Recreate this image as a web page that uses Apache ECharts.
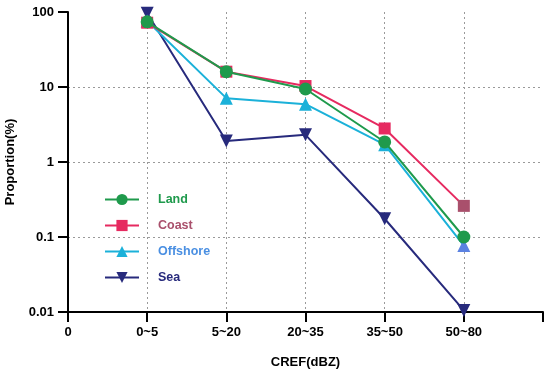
<!DOCTYPE html>
<html>
<head>
<meta charset="utf-8">
<script src="https://cdn.jsdelivr.net/npm/echarts@6/dist/echarts.min.js"></script>
<style>html,body{margin:0;padding:0;background:#fff}#c{width:550px;height:377px}</style>
</head>
<body>
<div id="c"></div>
<script>
const xLabels = ["0", "0~5", "5~20", "20~35", "35~50", "50~80", ""];
const xPos = [1, 2, 3, 4, 5];
const yTicks = ["0.01", "0.1", "1", "10", "100"];
const land = [74, 16.0, 9.4, 1.85, 0.10];
const coast = [72, 16.0, 10.3, 2.8, 0.26];
const offshore = [76, 7.1, 5.9, 1.7, 0.077];
const sea = [96, 1.9, 2.3, 0.175, 0.0105];

const FONT = '"Liberation Sans", Arial, sans-serif';
const pair = (vals) => vals.map((v, i) => [xPos[i], v]);

function mkSeries(name, vals, color, symbol, size, extra) {
  return Object.assign({
    name: name, type: 'line', data: pair(vals),
    symbol: symbol, symbolSize: size,
    lineStyle: { color: color, width: 2 },
    itemStyle: { color: color },
    emphasis: { disabled: true }, animation: false
  }, extra || {});
}

const coastData = pair(coast).map((d, i) => i === 4 ? { value: d, itemStyle: { color: '#a9506c' } } : d);
const offData = pair(offshore).map((d, i) => i === 4 ? { value: d, itemStyle: { color: '#5b82e2' } } : d);

const chart = echarts.init(document.getElementById('c'), null, { renderer: 'canvas' });
chart.setOption({
  animation: false,
  textStyle: { fontFamily: FONT },
  grid: { left: 68, right: 7, top: 12, bottom: 65, containLabel: false, outerBoundsMode: 'none' },
  legend: {
    orient: 'vertical', left: 99, top: 188,
    itemWidth: 34, itemHeight: 14, itemGap: 13,
    textStyle: { fontFamily: FONT, fontWeight: 'bold', fontSize: 12.5, padding: [0, 0, 0, 14] },
    data: [
      { name: 'Land', textStyle: { color: '#1f9a4c' } },
      { name: 'Coast', textStyle: { color: '#a9506c' } },
      { name: 'Offshore', textStyle: { color: '#4a8fe2' } },
      { name: 'Sea', textStyle: { color: '#272a7c' } }
    ]
  },
  xAxis: {
    type: 'value', min: 0, max: 6, interval: 1,
    name: 'CREF(dBZ)', nameLocation: 'middle', nameGap: 44,
    nameTextStyle: { fontFamily: FONT, fontWeight: 'bold', fontSize: 13, color: '#000' },
    axisLine: { show: true, lineStyle: { color: '#000', width: 2 } },
    axisTick: { show: true, length: 10, lineStyle: { color: '#000', width: 2 } },
    axisLabel: {
      margin: 14, fontFamily: FONT, fontWeight: 'bold', fontSize: 13, color: '#000',
      showMinLabel: true, showMaxLabel: true,
      formatter: (v) => xLabels[Math.round(v)] || ''
    },
    splitLine: { show: true, showMinLine: false, showMaxLine: false, lineStyle: { color: '#9a9a9a', type: [2, 3], width: 1 } }
  },
  yAxis: {
    type: 'log', logBase: 10, min: 0.01, max: 100,
    name: 'Proportion(%)', nameLocation: 'middle', nameGap: 51,
    nameTextStyle: { fontFamily: FONT, fontWeight: 'bold', fontSize: 13, color: '#000' },
    axisLine: { show: true, lineStyle: { color: '#000', width: 2 } },
    axisTick: { show: true, length: 10, lineStyle: { color: '#000', width: 2 } },
    axisLabel: {
      margin: 14, fontFamily: FONT, fontWeight: 'bold', fontSize: 13, color: '#000',
      formatter: (v) => {
        const i = Math.round(Math.log10(v)) + 2;
        return yTicks[i] !== undefined ? yTicks[i] : '';
      }
    },
    splitLine: { show: true, showMinLine: false, showMaxLine: false, lineStyle: { color: '#9a9a9a', type: [2, 3], width: 1 } }
  },
  series: [
    mkSeries('Sea', sea, '#272a7c', 'triangle', 13, { symbolRotate: 180, z: 2 }),
    mkSeries('Offshore', offshore, '#1bb1d9', 'triangle', 13, { data: offData, z: 3 }),
    mkSeries('Coast', coast, '#e62a60', 'rect', 12, { data: coastData, z: 4 }),
    mkSeries('Land', land, '#1f9a4c', 'circle', 13, { z: 5 })
  ]
});
</script>
</body>
</html>
